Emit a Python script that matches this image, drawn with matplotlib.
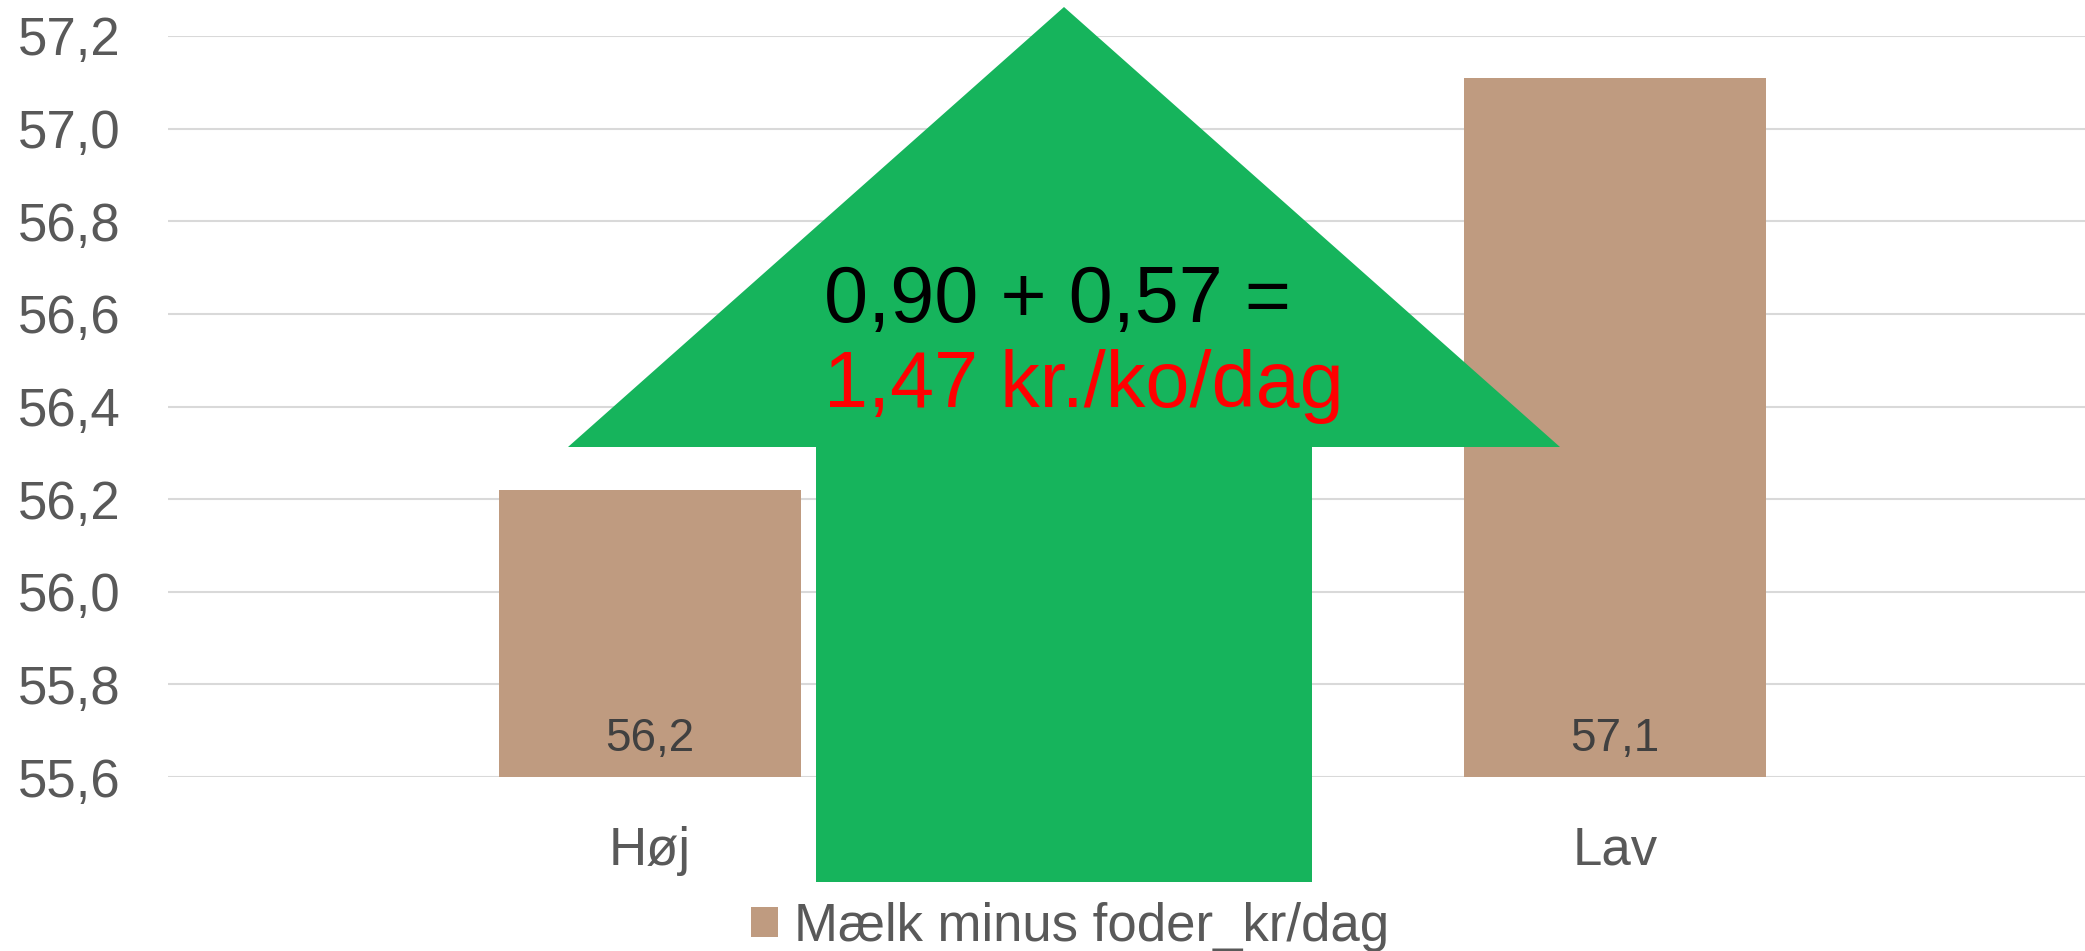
import matplotlib
matplotlib.use("Agg")
import matplotlib.pyplot as plt
from matplotlib.patches import Polygon, Patch
from matplotlib.ticker import FuncFormatter

# ── Data ─────────────────────────────────────────────────────────────────────
categories = ["Høj", "Lav"]
values     = [56.22, 57.11]
bar_labels = ["56,2", "57,1"]
series_name = "Mælk minus foder_kr/dag"
y_ticks    = [55.6, 55.8, 56.0, 56.2, 56.4, 56.6, 56.8, 57.0, 57.2]
arrow_line1 = "0,90 + 0,57 ="
arrow_line2 = "1,47 kr./ko/dag"
# ─────────────────────────────────────────────────────────────────────────────

W, H = 2085, 951
BAR_COLOR   = "#BF9B80"
ARROW_COLOR = "#16B45C"
GRID_COLOR  = "#D9D9D9"
TICK_COLOR  = "#595959"

plt.rcParams["font.family"] = ["Liberation Sans", "DejaVu Sans"]

fig = plt.figure(figsize=(W / 100, H / 100), dpi=100)

# plot area in pixels: left 167.5, right 2097.5, top 36, bottom 777
ax = fig.add_axes([167.5 / W, 1 - 777 / H, 1930 / W, 741 / H])

x = list(range(len(categories)))
ax.bar(x, [v - y_ticks[0] for v in values], bottom=y_ticks[0],
       width=0.313, color=BAR_COLOR, zorder=2)

for xi, lab in zip(x, bar_labels):
    ax.text(xi, 55.682, lab, ha="center", va="center",
            fontsize=33, color="#404040", zorder=3)

ax.set_xlim(-0.5, 1.5)
ax.set_ylim(y_ticks[0], y_ticks[-1])
ax.set_yticks(y_ticks)
ax.yaxis.set_major_formatter(FuncFormatter(lambda v, p: f"{v:.1f}".replace(".", ",")))
ax.set_xticks(x)
ax.set_xticklabels(categories)

ax.grid(axis="y", color=GRID_COLOR, linewidth=1.5, zorder=0)
ax.set_axisbelow(True)
for s in ax.spines.values():
    s.set_visible(False)
ax.tick_params(axis="both", length=0, labelsize=38, colors=TICK_COLOR)
ax.tick_params(axis="y", pad=34)
ax.tick_params(axis="x", pad=35)

# ── Green arrow overlay (pixel coordinates -> figure fraction) ───────────────
arrow_px = [(1064, 7), (1560, 447), (1312, 447), (1312, 882),
            (816, 882), (816, 447), (568, 447)]
arrow_pts = [(px / W, 1 - py / H) for px, py in arrow_px]
fig.add_artist(Polygon(arrow_pts, closed=True, facecolor=ARROW_COLOR,
                       edgecolor="none", transform=fig.transFigure, zorder=5))

fig.text(824 / W, 1 - 301 / H, arrow_line1, fontsize=57, color="black",
         ha="left", va="center", zorder=6)
fig.text(824 / W, 1 - 387 / H, arrow_line2, fontsize=57, color="#FF0000",
         ha="left", va="center", zorder=6)

# ── Legend ───────────────────────────────────────────────────────────────────
handle = Patch(facecolor=BAR_COLOR, edgecolor="none")
fig.legend([handle], [series_name], loc="center",
           bbox_to_anchor=(1070 / W, 1 - 927 / H), frameon=False,
           fontsize=38, labelcolor=TICK_COLOR, handlelength=0.5,
           handleheight=0.5, handletextpad=0.3, borderpad=0)

fig.savefig("out.png", dpi=100)
